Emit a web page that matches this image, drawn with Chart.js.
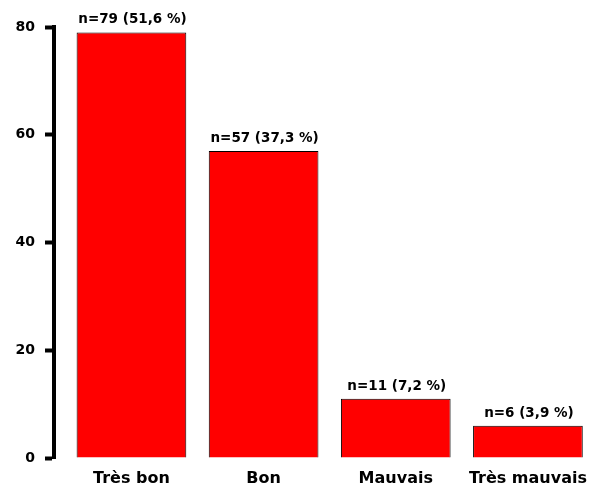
<!DOCTYPE html>
<html>
<head>
<meta charset="utf-8">
<script src="https://cdn.jsdelivr.net/npm/chart.js@4/dist/chart.umd.min.js"></script>
<style>
html,body{margin:0;padding:0;background:#fff;}
#wrap{width:594px;height:493px;position:relative;}
</style>
</head>
<body>
<div id="wrap"><canvas id="c"></canvas></div>
<script>
const categories = ["Très bon", "Bon", "Mauvais", "Très mauvais"];
const counts = [79, 57, 11, 6];
const percents = ["51,6", "37,3", "7,2", "3,9"];
const yTicks = [0, 20, 40, 60, 80];

const FONT = "'DejaVu Sans', sans-serif";

const barLabels = {
  id: 'barLabels',
  afterDatasetsDraw(chart) {
    const ctx = chart.ctx;
    const meta = chart.getDatasetMeta(0);
    ctx.save();
    ctx.font = "bold 13.5px " + FONT;
    ctx.fillStyle = "#000";
    ctx.textAlign = "center";
    ctx.textBaseline = "alphabetic";
    meta.data.forEach((bar, i) => {
      ctx.fillText("n=" + counts[i] + " (" + percents[i] + " %)", bar.x + 1, bar.y - 9);
    });
    ctx.restore();
  }
};

new Chart(document.getElementById('c'), {
  type: 'bar',
  data: {
    datasets: [{
      data: counts.map((v, i) => ({x: i, y: v})),
      backgroundColor: '#ff0000',
      borderColor: '#000000',
      borderWidth: 1,
      barPercentage: 0.83,
      categoryPercentage: 1.0
    }]
  },
  options: {
    responsive: true,
    maintainAspectRatio: false,
    animation: false,
    layout: {padding: {top: 27, right: 0, bottom: 0, left: 0}},
    plugins: {legend: {display: false}, tooltip: {enabled: false}},
    scales: {
      x: {
        type: 'linear',
        offset: false,
        min: -0.586,
        max: 3.5,
        grid: {display: false, drawTicks: false, offset: false},
        border: {display: false},
        afterBuildTicks: s => { s.ticks = categories.map((c, i) => ({value: i})); },
        afterFit: s => { s.height = 35; s.paddingLeft = 0; s.paddingRight = 0; },
        ticks: {
          autoSkip: false,
          maxRotation: 0,
          padding: 11,
          color: '#000',
          font: {family: FONT, size: 16, weight: 'bold'},
          callback: v => categories[v] ?? ''
        }
      },
      y: {
        min: 0,
        max: 80,
        afterFit: s => { s.width = 54; },
        afterBuildTicks: s => { s.ticks = yTicks.map(v => ({value: v})); },
        grid: {
          drawOnChartArea: false,
          tickLength: 9,
          tickWidth: 4,
          tickColor: '#000'
        },
        border: {display: true, color: '#000', width: 4},
        ticks: {
          padding: 10,
          color: '#000',
          font: {family: FONT, size: 14, weight: 'bold'}
        }
      }
    }
  },
  plugins: [barLabels]
});
</script>
</body>
</html>
